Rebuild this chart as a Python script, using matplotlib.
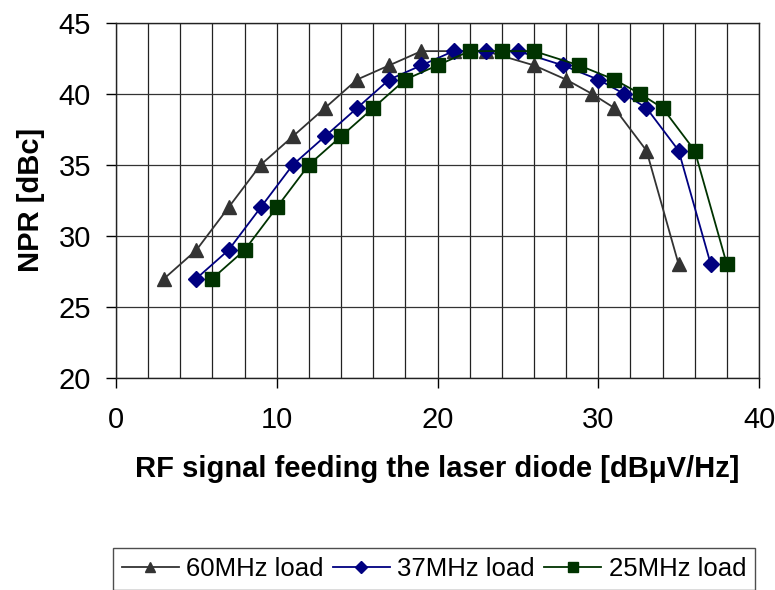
import matplotlib
matplotlib.use('Agg')
import matplotlib.pyplot as plt
import numpy as np

plt.rcParams['font.family'] = ['Liberation Sans', 'DejaVu Sans']

# data
x_60 = [3, 5, 7, 9, 11, 13, 15, 17, 19, 21, 23, 26, 28, 29.6, 31, 33, 35]
y_60 = [27, 29, 32, 35, 37, 39, 41, 42, 43, 43, 43, 42, 41, 40, 39, 36, 28]

x_37 = [5, 7, 9, 11, 13, 15, 17, 19, 21, 23, 25, 27.8, 30, 31.6, 33, 35, 37]
y_37 = [27, 29, 32, 35, 37, 39, 41, 42, 43, 43, 43, 42, 41, 40, 39, 36, 28]

x_25 = [6, 8, 10, 12, 14, 16, 18, 20, 22, 24, 26, 28.8, 31, 32.6, 34, 36, 38]
y_25 = [27, 29, 32, 35, 37, 39, 41, 42, 43, 43, 43, 42, 41, 40, 39, 36, 28]

labels = ['60MHz load', '37MHz load', '25MHz load']

fig = plt.figure(figsize=(7.75, 5.9), dpi=100)
ax = fig.add_axes([116 / 775, 1 - 378 / 590, (759 - 116) / 775, (378 - 22.7) / 590])

ax.plot(x_60, y_60, '-', color='#333333', lw=1.3, marker='^', ms=10,
        mfc='#333333', mec='#333333', label=labels[0], zorder=3)
ax.plot(x_37, y_37, '-', color='#000080', lw=1.3, marker='D', ms=8,
        mfc='#000080', mec='#000080', label=labels[1], zorder=4)
ax.plot(x_25, y_25, '-', color='#003300', lw=1.3, marker='s', ms=9.5,
        mfc='#003300', mec='#003300', label=labels[2], zorder=5)

ax.set_xlim(0, 40)
ax.set_ylim(20, 45)
ax.set_xticks(np.arange(0, 41, 10))
ax.set_xticks(np.arange(0, 41, 2), minor=True)
ax.set_yticks(np.arange(20, 46, 5))

ax.grid(True, which='minor', axis='x', color='#222222', lw=0.9)
ax.grid(True, which='major', axis='x', color='#222222', lw=0.9)
ax.grid(True, which='major', axis='y', color='#333333', lw=0.9)
ax.set_axisbelow(True)

ax.tick_params(axis='both', which='major', labelsize=21, length=7, width=1,
               direction='out')
ax.tick_params(axis='y', which='major', pad=11)
ax.tick_params(axis='x', which='major', pad=13)
ax.tick_params(axis='x', which='minor', length=0)

for s in ax.spines.values():
    s.set_color('#222222')
    s.set_linewidth(1)

ax.set_ylabel('NPR [dBc]', fontsize=21, fontweight='bold', labelpad=10)
ax.set_xlabel('RF signal feeding the laser diode [dB\u03bcV/Hz]', fontsize=21,
              fontweight='bold', labelpad=15)

leg = fig.legend(loc='upper left', bbox_to_anchor=(113 / 775, 1 - 548 / 590, (755 - 113) / 775, 0.0),
                 mode='expand', ncol=3, fontsize=18.5, frameon=True, fancybox=False,
                 handlelength=2.2, handletextpad=0.3, columnspacing=0.4,
                 borderpad=0.35, markerscale=0.75, numpoints=1, borderaxespad=0)
leg.get_frame().set_edgecolor('#222222')
leg.get_frame().set_linewidth(1)

plt.savefig('out.png', dpi=100)
